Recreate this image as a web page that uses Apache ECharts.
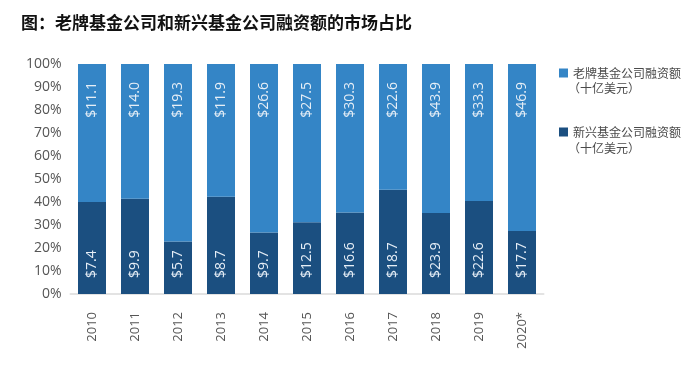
<!DOCTYPE html>
<html><head><meta charset="utf-8">
<script src="https://cdn.jsdelivr.net/npm/echarts@6/dist/echarts.min.js"></script>
<style>html,body{margin:0;padding:0;background:#fff}#c{width:700px;height:369px}</style>
</head><body><div id="c"></div>
<script>
const categories = ['2010','2011','2012','2013','2014','2015','2016','2017','2018','2019','2020*'];
const oldFunds = [11.1, 14.0, 19.3, 11.9, 26.6, 27.5, 30.3, 22.6, 43.9, 33.3, 46.9];
const newFunds = [7.4, 9.9, 5.7, 8.7, 9.7, 12.5, 16.6, 18.7, 23.9, 22.6, 17.7];
const yTicks = [0,10,20,30,40,50,60,70,80,90,100];
const title = '图：老牌基金公司和新兴基金公司融资额的市场占比';
const oldName = '老牌基金公司融资额';
const newName = '新兴基金公司融资额';
const unit = '（十亿美元）';

const totals = oldFunds.map((v,i)=>v+newFunds[i]);
const newPct = newFunds.map((v,i)=>v/totals[i]*100);
const oldPct = oldFunds.map((v,i)=>v/totals[i]*100);

const FONT = '"Open Sans", "Noto Sans CJK SC", sans-serif';
const CJK = '"Noto Sans CJK SC", sans-serif';
const LIGHT = '#3485c6';
const DARK = '#1b4f80';
const chart = echarts.init(document.getElementById('c'));
chart.setOption({
  animation:false,
  title:{text:title,left:16,top:9,textStyle:{fontSize:17,fontWeight:'bold',color:'#111',fontFamily:CJK}},
  grid:{left:70.5,right:156.5,top:64,bottom:75,containLabel:false},
  legend:{orient:'vertical',left:554,top:62,itemGap:47,icon:'rect',itemWidth:9,itemHeight:9,
    data:[oldName,newName],
    textStyle:{fontSize:12,color:'#4a4a4a',fontFamily:CJK}},
  graphic:[
    {type:'text',left:568,top:82,style:{text:unit,fontSize:12,fill:'#4a4a4a',fontFamily:CJK}},
    {type:'text',left:568,top:142,style:{text:unit,fontSize:12,fill:'#4a4a4a',fontFamily:CJK}}
  ],
  xAxis:{type:'category',data:categories,
    axisLine:{lineStyle:{color:'#e3e3e3',width:2}},axisTick:{show:false},
    axisLabel:{rotate:90,fontSize:13,color:'#555',fontFamily:FONT,margin:18,interval:0}},
  yAxis:{type:'value',min:0,max:100,interval:10,
    axisLine:{show:false},axisTick:{show:false},splitLine:{show:false},
    axisLabel:{formatter:v=>v+'%',fontSize:14,color:'#555',fontFamily:FONT,margin:9}},
  series:[
    {name:newName,type:'bar',stack:'a',barWidth:28,data:newPct,itemStyle:{color:DARK},
      label:{show:true,position:'insideBottom',rotate:90,align:'left',verticalAlign:'middle',distance:16,
        formatter:p=>'$'+newFunds[p.dataIndex].toFixed(1),fontSize:14,color:'#e6eef6',fontFamily:FONT}},
    {name:oldName,type:'bar',stack:'a',barWidth:28,data:oldPct,itemStyle:{color:LIGHT},
      label:{show:true,position:'insideTop',rotate:90,align:'right',verticalAlign:'middle',distance:18,
        formatter:p=>'$'+oldFunds[p.dataIndex].toFixed(1),fontSize:14,color:'#e6eef6',fontFamily:FONT}}
  ]
});
</script></body></html>
